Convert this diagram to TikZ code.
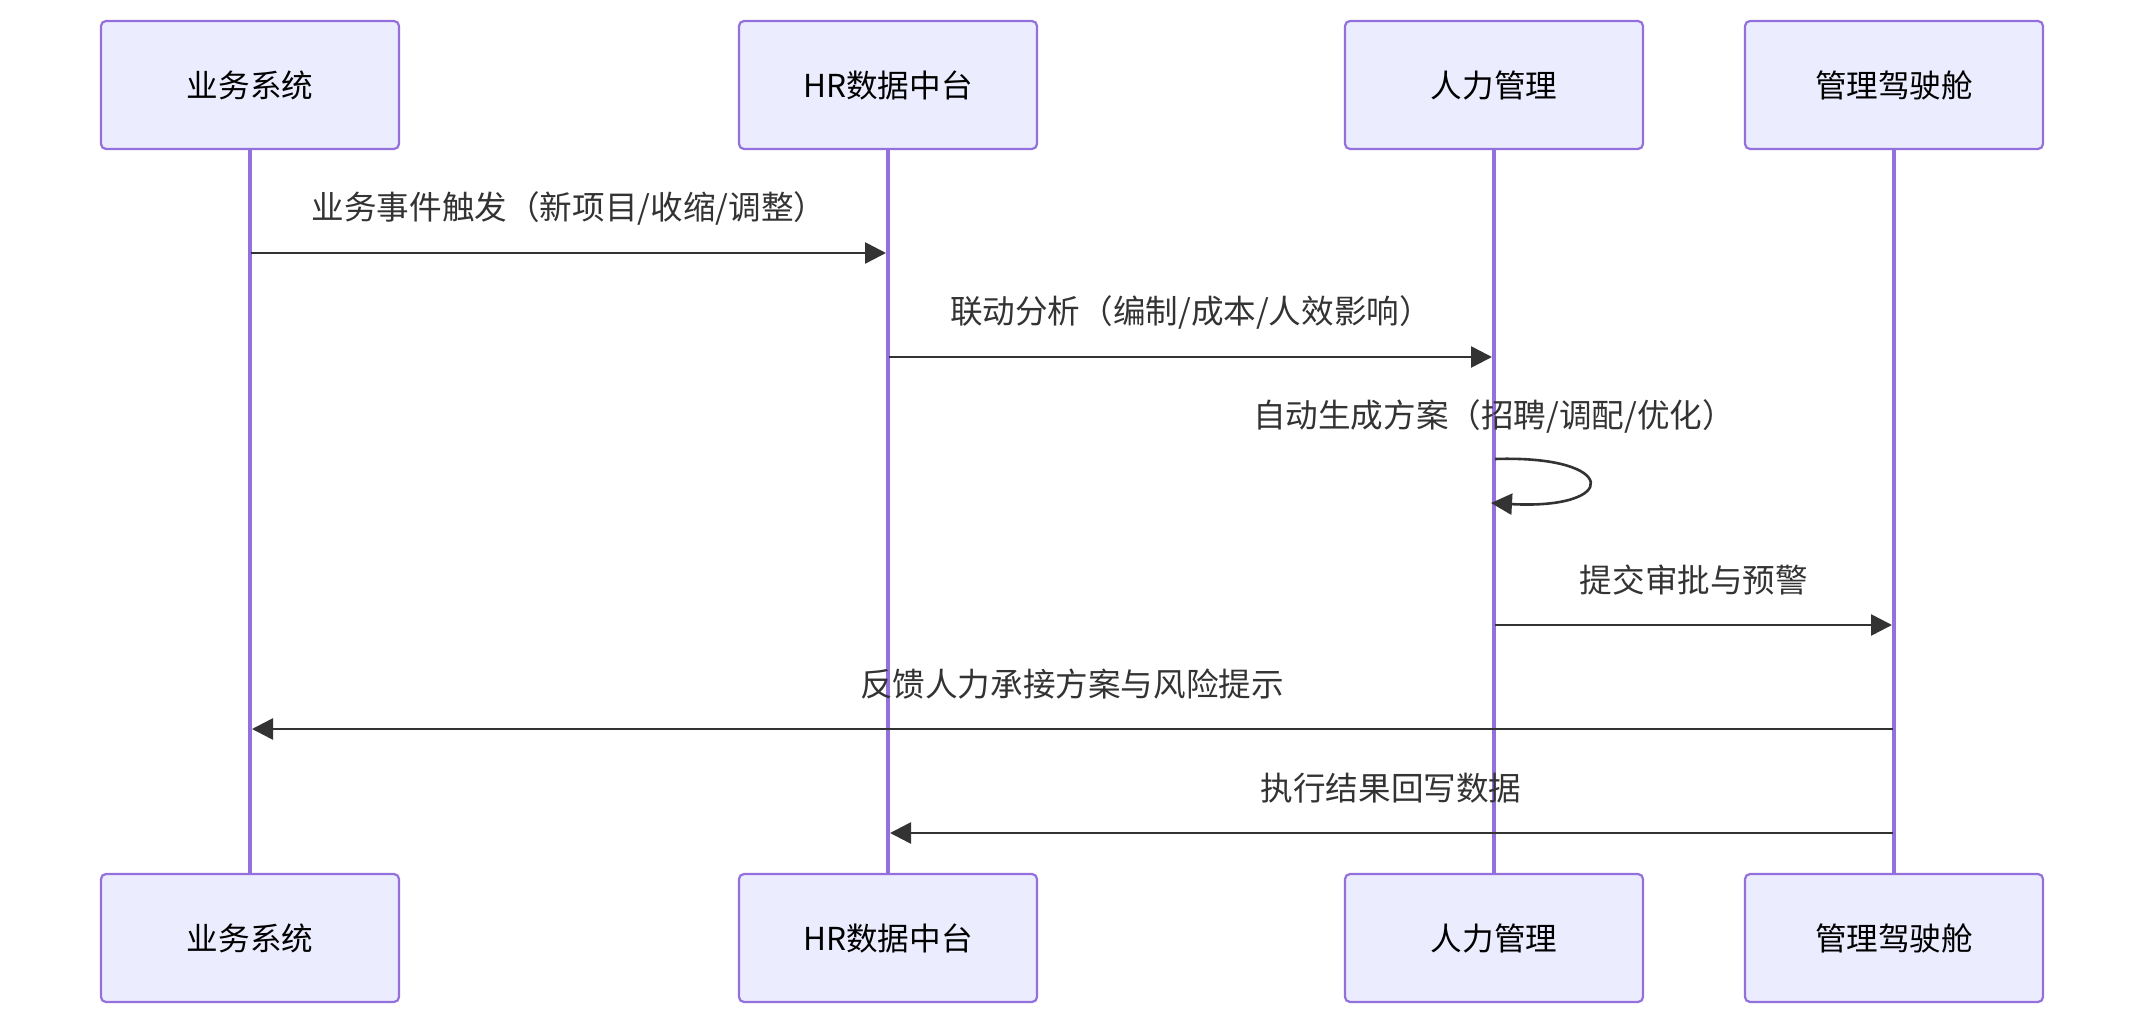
\documentclass[tikz,border=0pt]{standalone}
\usepackage{fontspec}
\setmainfont{Noto Sans CJK SC}
\usetikzlibrary{arrows.meta}
\definecolor{actorfill}{HTML}{ECECFF}
\definecolor{actorline}{HTML}{9370DB}
\definecolor{msgcol}{HTML}{333333}
\tikzset{
  actor/.style={draw=actorline,fill=actorfill,line width=1.1pt,rounded corners=2.5pt,
    minimum width=149pt,minimum height=64pt,inner sep=0pt,font=\fontsize{15.8}{18}\selectfont},
  lifeline/.style={draw=actorline,line width=1.7pt},
  msg/.style={draw=msgcol,line width=1.3pt,-{Triangle[length=10.5pt,width=10.5pt]}},
  msglabel/.style={text=msgcol,font=\fontsize{16.3}{19}\selectfont}
}
\begin{document}
\begin{tikzpicture}[x=0.5pt,y=-0.5pt]
\useasboundingbox (0,0) rectangle (2144,1026);
\node[actor] (ywT) at (250,85) {业务系统};
\node[actor] (hrT) at (888,85) {HR数据中台};
\node[actor] (rlT) at (1494,85) {人力管理};
\node[actor] (jcT) at (1894,85) {管理驾驶舱};
\node[actor] (ywB) at (250,938) {业务系统};
\node[actor] (hrB) at (888,938) {HR数据中台};
\node[actor] (rlB) at (1494,938) {人力管理};
\node[actor] (jcB) at (1894,938) {管理驾驶舱};
\draw[lifeline] (ywT.south) -- (ywB.north);
\draw[lifeline] (hrT.south) -- (hrB.north);
\draw[lifeline] (rlT.south) -- (rlB.north);
\draw[lifeline] (jcT.south) -- (jcB.north);
\coordinate (m1a) at (251,253);
\coordinate (m1b) at (886,253);
\coordinate (m2a) at (889,357);
\coordinate (m2b) at (1492,357);
\coordinate (s1a) at (1495,459);
\coordinate (s1b) at (1491,503);
\coordinate (m4a) at (1495,625);
\coordinate (m4b) at (1892,625);
\coordinate (m5a) at (1893,729);
\coordinate (m5b) at (252,729);
\coordinate (m6a) at (1893,833);
\coordinate (m6b) at (890,833);
\node[msglabel] (l1) at (569,208) {业务事件触发（新项目/收缩/调整）};
\node[msglabel] (l2) at (1191,312) {联动分析（编制/成本/人效影响）};
\node[msglabel] (l3) at (1494,416) {自动生成方案（招聘/调配/优化）};
\node[msglabel] (l4) at (1694,580) {提交审批与预警};
\node[msglabel] (l5) at (1072,684) {反馈人力承接方案与风险提示};
\node[msglabel] (l6) at (1391,788) {执行结果回写数据};
\draw[msg] (m1a) -- (m1b);
\draw[msg] (m2a) -- (m2b);
\draw[msg] (s1a) .. controls (1620,455) and (1620,510) .. (s1b);
\draw[msg] (m4a) -- (m4b);
\draw[msg] (m5a) -- (m5b);
\draw[msg] (m6a) -- (m6b);
\end{tikzpicture}
\end{document}
